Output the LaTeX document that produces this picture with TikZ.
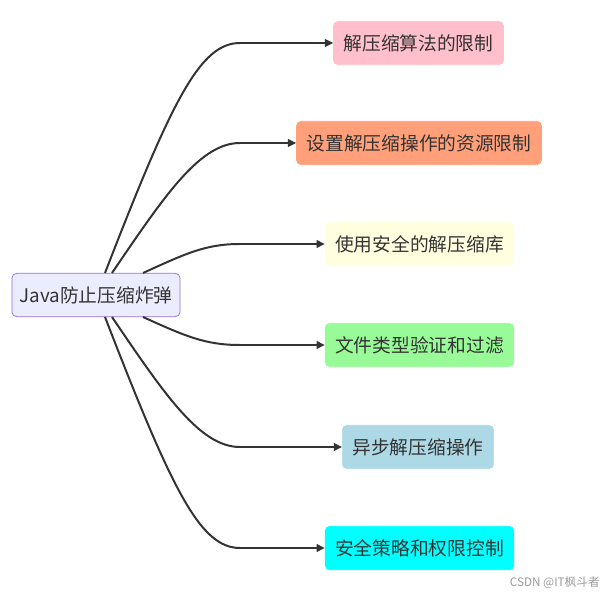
\documentclass[tikz,border=0pt]{standalone}
\usepackage{fontspec}
\usepackage{tikz}
\usetikzlibrary{arrows.meta, positioning}
\newfontfamily\cjk{Noto Sans CJK SC}
\definecolor{InkGray}{HTML}{333333}
\definecolor{RootFill}{HTML}{ECECFF}
\definecolor{RootLine}{HTML}{9370DB}
\definecolor{PinkFill}{HTML}{FFC0CB}
\definecolor{SalmonFill}{HTML}{FFA07A}
\definecolor{YellowFill}{HTML}{FFFFE0}
\definecolor{GreenFill}{HTML}{98FB98}
\definecolor{BlueFill}{HTML}{ADD8E6}
\definecolor{CyanFill}{HTML}{00FFFF}
\definecolor{MarkGray}{HTML}{9A9A9A}

\tikzset{
    leaf/.style={rounded corners=4pt, inner xsep=0.3cm, minimum height=1.3cm,
                 font=\cjk\fontsize{16}{19}\selectfont, text=InkGray, line width=0.6pt},
    link/.style={InkGray, line width=1.7pt, -{Triangle[length=7pt, width=6.5pt]}}
}

\begin{document}
\begin{tikzpicture}[x=0.03cm, y=-0.03cm]
    \useasboundingbox (0,0) rectangle (607,595);

    % Root
    \node[leaf, draw=RootLine, fill=RootFill, inner xsep=0.2cm, minimum width=5.04cm] (root) at (96,295) {Java防止压缩炸弹};

    % Leaves
    \node[leaf, draw=PinkFill, fill=PinkFill] (algo) at (418.5,43) {解压缩算法的限制};
    \node[leaf, draw=SalmonFill, fill=SalmonFill] (quota) at (419,143) {设置解压缩操作的资源限制};
    \node[leaf, draw=YellowFill, fill=YellowFill] (safelib) at (419.5,244) {使用安全的解压缩库};
    \node[leaf, draw=GreenFill, fill=GreenFill] (filter) at (419.5,345) {文件类型验证和过滤};
    \node[leaf, draw=BlueFill, fill=BlueFill] (async) at (418,447) {异步解压缩操作};
    \node[leaf, draw=CyanFill, fill=CyanFill] (policy) at (419.5,548) {安全策略和权限控制};

    % Start points on the root
    \coordinate (t1) at (105,273);
    \coordinate (t2) at (112,273);
    \coordinate (t3) at (143,273);
    \coordinate (b1) at (143,317);
    \coordinate (b2) at (112,317);
    \coordinate (b3) at (105,317);

    % Links
    \draw[link] (t1) .. controls (172,100) and (200,43) .. (240,43) -- (algo.west);
    \draw[link] (t2) .. controls (165,195) and (200,143) .. (240,143) -- (quota.west);
    \draw[link] (t3) .. controls (185,254) and (205,244) .. (240,244) -- (safelib.west);
    \draw[link] (b1) .. controls (185,336) and (205,345) .. (240,345) -- (filter.west);
    \draw[link] (b2) .. controls (165,395) and (200,447) .. (240,447) -- (async.west);
    \draw[link] (b3) .. controls (172,490) and (200,548) .. (240,548) -- (policy.west);

    % Watermark
    \node[font=\cjk\fontsize{10}{12}\selectfont, text=MarkGray, anchor=east] (mark) at (604,583) {CSDN @IT枫斗者};
\end{tikzpicture}
\end{document}
